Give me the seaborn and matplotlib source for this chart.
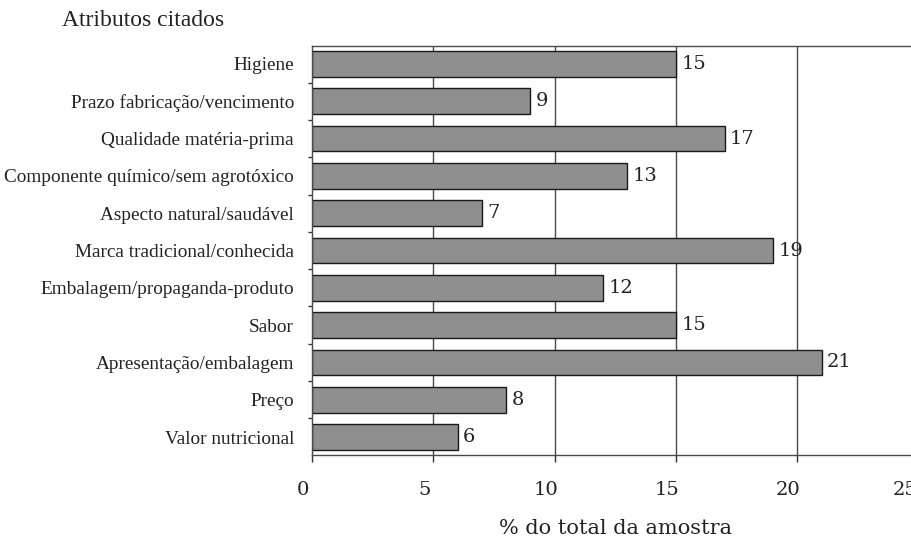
"""Atributos citados - horizontal bar chart."""
import matplotlib
matplotlib.use("Agg")
import matplotlib.pyplot as plt
import matplotlib.transforms as mtransforms
import seaborn as sns
import pandas as pd

atributos = [
    "Higiene",
    "Prazo fabricação/vencimento",
    "Qualidade matéria-prima",
    "Componente químico/sem agrotóxico",
    "Aspecto natural/saudável",
    "Marca tradicional/conhecida",
    "Embalagem/propaganda-produto",
    "Sabor",
    "Apresentação/embalagem",
    "Preço",
    "Valor nutricional",
]
percentuais = [15, 9, 17, 13, 7, 19, 12, 15, 21, 8, 6]
xticks = [0, 5, 10, 15, 20, 25]

df = pd.DataFrame({"atributo": atributos, "pct": percentuais})

sns.set_theme(style="white")
plt.rcParams["font.family"] = ["Liberation Serif", "DejaVu Serif"]

fig = plt.figure(figsize=(9.12, 5.36), dpi=100)
ax = fig.add_axes([312 / 912, 1 - 455 / 536, 606.7 / 912, 409 / 536])

# vertical grid lines behind the bars
for xv in xticks[1:]:
    ax.axvline(xv, color="#4a4a4a", lw=1.0, zorder=0)

sns.barplot(data=df, x="pct", y="atributo", orient="h", color="#8f8f8f",
            edgecolor="#1a1a1a", linewidth=1.0, width=0.69, saturation=1,
            ax=ax, zorder=2)

ax.bar_label(ax.containers[0], labels=[str(v) for v in percentuais],
             padding=4, fontsize=14, family="DejaVu Serif", color="#222222")

ax.set_xlim(0, 25)
ax.set_ylim(10.48, -0.48)
ax.set_xticks(xticks)
ax.set_xticklabels([str(t) for t in xticks], family="DejaVu Serif",
                   fontsize=14, color="#222222")
ax.set_yticks(range(len(atributos)))
ax.set_yticklabels(atributos, fontsize=13.9, color="#222222")
ax.set_yticks([i + 0.5 for i in range(len(atributos) - 1)], minor=True)

ax.tick_params(axis="x", direction="out", length=5, width=1, color="#333333",
               pad=14, bottom=True)
ax.tick_params(axis="y", which="major", length=0, pad=13)
ax.tick_params(axis="y", which="minor", direction="out", length=3, width=1,
               color="#333333", left=True)

# the scanned labels sit a little left of their ticks
shift = mtransforms.ScaledTranslation(-9 / 100, 0, fig.dpi_scale_trans)
last = mtransforms.ScaledTranslation(-14 / 100, 0, fig.dpi_scale_trans)
labs = ax.get_xticklabels()
for lab in labs[:-1]:
    lab.set_transform(lab.get_transform() + shift)
labs[-1].set_transform(labs[-1].get_transform() + last)

ax.set_xlabel("% do total da amostra", family="DejaVu Serif", fontsize=15,
              color="#222222", labelpad=14)
ax.set_ylabel("")

for side in ["top", "bottom", "left"]:
    ax.spines[side].set_color("#4a4a4a")
    ax.spines[side].set_linewidth(1.0)
ax.spines["right"].set_visible(False)

fig.text(62 / 912, 1 - 20 / 536, "Atributos citados", fontsize=17,
         ha="left", va="center", color="#222222")

fig.savefig("out.png", dpi=100)
